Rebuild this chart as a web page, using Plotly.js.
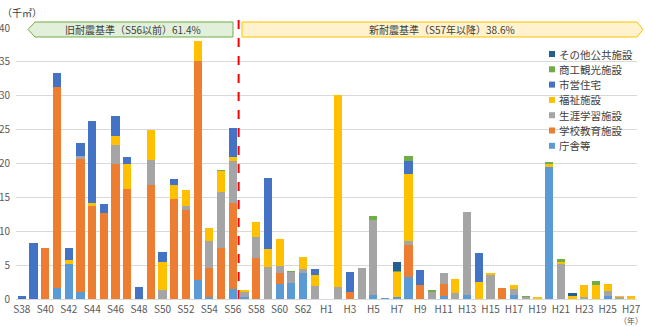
<!DOCTYPE html>
<html>
<head>
<meta charset="utf-8">
<script src="https://cdn.plot.ly/plotly-3.0.1.min.js"></script>
<style>html,body{margin:0;padding:0;background:#fff;}#chart{width:645px;height:327px;}</style>
</head>
<body>
<div id="chart"></div>
<script>
// Categories (construction year)
const years = ["S38","S39","S40","S41","S42","S43","S44","S45","S46","S47","S48","S49","S50","S51","S52","S53","S54","S55","S56","S57","S58","S59","S60","S61","S62","S63",
  "H1","H2","H3","H4","H5","H6","H7","H8","H9","H10","H11","H12","H13","H14","H15","H16","H17","H18","H19","H20","H21","H22","H23","H24","H25","H26","H27"];
const tickLabels = ["S38","S40","S42","S44","S46","S48","S50","S52","S54","S56","S58","S60","S62","H1","H3","H5","H7","H9","H11","H13","H15","H17","H19","H21","H23","H25","H27"];

// Series values (千㎡)
const chosha   = [0,0,0,1.6,5.1,1.0,0,0,0,0,0,0,0,0,0,2.85,0.3,0,1.5,0.3,0,0,2.15,2.35,3.9,0, 0,0,0,0,0.55,0.1,0.35,3.3,0,0,0.4,0,0.6,0,0,0,0.6,0,0,19.5,0,0,0,0,0.4,0,0];
const gakko    = [0,0,7.6,29.7,0,19.6,13.7,12.7,20.0,16.2,0,16.8,0,14.7,13.1,32.3,4.25,7.5,12.7,0,6.0,0,1.75,0,0,0, 0,0,1.0,0,0,0,0,4.6,2.1,0,1.75,0,0,0,0,1.65,0,0,0,0,0,0,0,0,0,0,0];
const shogai   = [0,0,0,0,0,0.5,0,0,2.7,0,0,3.7,1.3,0,0.7,0,3.95,8.3,6.1,0.7,3.1,4.7,0.95,1.65,0.5,1.95, 0,1.75,0,4.65,11.05,0,0,0.7,0,1.0,1.65,0.9,12.3,0,3.6,0,0.9,0.3,0,0,5.15,0,0.25,0,0.8,0.3,0];
const fukushi  = [0,0,0,0,0.6,0,0.5,0,1.4,3.8,0,4.5,4.2,2.1,2.3,2.9,2.0,3.1,0.7,0.4,2.3,2.65,4.05,0,1.8,1.55, 0,28.3,0,0,0,0,3.65,9.8,0,0,0,2.0,0,2.55,0.3,0,0.55,0,0.25,0.5,0.25,0.4,1.75,2.0,1.0,0.1,0.4];
const shiei    = [0.5,8.3,0,2.0,1.85,1.9,12.1,1.3,2.9,1.0,1.7,0,1.5,0.9,0,0,0,0,4.2,0,0,10.45,0,0,0,1.0, 0,0,3.0,0,0,0,0,1.95,2.25,0,0,0,0,4.2,0,0,0,0,0,0,0,0,0,0,0,0,0];
const shoko    = [0,0,0,0,0,0,0,0,0,0,0,0,0,0,0,0,0,0.1,0,0,0,0,0,0.1,0,0, 0,0,0,0,0.6,0,0.2,0.75,0,0.4,0,0,0,0,0,0,0,0.2,0,0.2,0.5,0,0,0.7,0,0,0];
const sonota   = [0,0,0,0,0,0,0,0,0,0,0,0,0,0,0,0,0,0.1,0,0,0,0,0,0,0,0, 0,0,0,0,0,0,1.3,0,0,0,0,0,0,0,0,0,0,0,0,0,0,0.5,0,0,0,0,0];

const seriesNames = ["庁舎等","学校教育施設","生涯学習施設","福祉施設","市営住宅","商工観光施設","その他公共施設"];
const seriesVals  = [chosha, gakko, shogai, fukushi, shiei, shoko, sonota];
const seriesColors = ["#5B9BD5","#ED7D31","#A5A5A5","#FFC000","#4472C4","#70AD47","#255E91"];

const FONT = '"Noto Sans CJK JP", "Noto Sans", sans-serif';

const traces = seriesNames.map((n,i)=>({
  type:'bar', name:n, x:years, y:seriesVals[i], marker:{color:seriesColors[i]}, showlegend:false, hoverinfo:'skip'
}));

// layout geometry helpers (pixel -> paper)
const L=16, R=8, T=28, B=28, W=645, H=327;
const PW = W-L-R, PH = H-T-B;
const px = v => (v-L)/PW;
const py = v => (H-B-v)/PH;
function path(pts){ return 'M' + pts.map(p=>px(p[0]).toFixed(5)+','+py(p[1]).toFixed(5)).join(' L') + ' Z'; }

const shapes = [
  {type:'path', xref:'paper', yref:'paper', path:path([[35,22],[233,22],[233,37],[35,37],[28,29.5]]),
    fillcolor:'#E2EFDA', line:{color:'#70AD47', width:1}},
  {type:'path', xref:'paper', yref:'paper', path:path([[242,22],[637,22],[643,29.5],[637,37],[242,37]]),
    fillcolor:'#FFF2CC', line:{color:'#FFC000', width:1}},
  {type:'line', xref:'x', yref:'paper', x0:18.5, x1:18.5, y0:0, y1:py(13),
    line:{color:'#FF0000', width:2, dash:'dash'}}
];
const annotations = [
  {xref:'paper', yref:'paper', x:px(133), y:py(29.5), text:'旧耐震基準（S56以前）61.4%', showarrow:false,
    xanchor:'center', yanchor:'middle', font:{size:10, color:'#404040'}},
  {xref:'paper', yref:'paper', x:px(442), y:py(29.5), text:'新耐震基準（S57年以降）38.6%', showarrow:false,
    xanchor:'center', yanchor:'middle', font:{size:10, color:'#404040'}},
  {xref:'paper', yref:'paper', x:px(0.5), y:py(12.5), text:'（千㎡）', showarrow:false, borderpad:0,
    xanchor:'left', yanchor:'middle', font:{size:10, color:'#404040'}},
  {xref:'paper', yref:'paper', x:px(644), y:py(327), text:'（年）', showarrow:false, borderpad:0,
    xanchor:'right', yanchor:'bottom', font:{size:8, color:'#595959'}}
];
// legend (reversed order, compact spacing like the original)
for (let k=0; k<seriesNames.length; k++){
  const i = seriesNames.length-1-k;
  const yc = 54 + k*15.3;
  shapes.push({type:'rect', xref:'paper', yref:'paper', x0:px(549), x1:px(555), y0:py(yc+3), y1:py(yc-3),
    fillcolor:seriesColors[i], line:{width:0}});
  annotations.push({xref:'paper', yref:'paper', x:px(557), y:py(yc), text:seriesNames[i], showarrow:false,
    xanchor:'left', yanchor:'middle', font:{size:10.5, color:'#404040'}});
}

const layout = {
  width:W, height:H,
  margin:{l:L, r:R, t:T, b:B, pad:0},
  paper_bgcolor:'#ffffff', plot_bgcolor:'#ffffff',
  barmode:'stack', bargap:0.3, showlegend:false,
  font:{family:FONT, size:10, color:'#595959'},
  xaxis:{type:'category', tickmode:'array', tickvals:tickLabels, ticktext:tickLabels,
    showgrid:false, showline:true, linecolor:'#D9D9D9', linewidth:1, ticks:'', ticklabelstandoff:1,
    tickfont:{size:10, color:'#595959'}, fixedrange:true},
  yaxis:{range:[0,40], dtick:5, showgrid:true, gridcolor:'#D9D9D9', gridwidth:1, zeroline:false,
    showline:false, ticks:'', ticklabelstandoff:5, tickfont:{size:10, color:'#595959'}, fixedrange:true},
  shapes:shapes,
  annotations:annotations
};

Plotly.newPlot('chart', traces, layout, {displayModeBar:false, staticPlot:true});
</script>
</body>
</html>
